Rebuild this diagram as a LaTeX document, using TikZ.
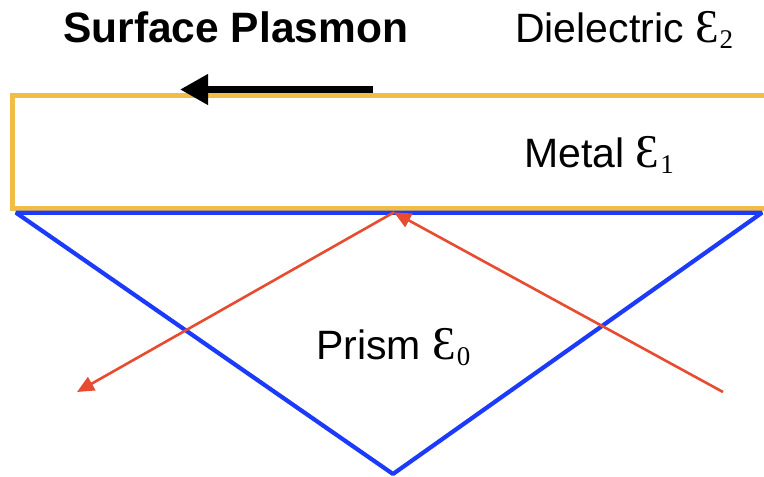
\documentclass[tikz,border=0pt]{standalone}
\usepackage{fontspec}
\setmainfont{Liberation Sans}
\newfontfamily\epsfont{Liberation Serif}
\usetikzlibrary{arrows.meta}
\definecolor{metalgold}{RGB}{240,190,72}
\definecolor{prismblue}{RGB}{28,58,250}
\definecolor{rayred}{RGB}{232,76,48}
\newcommand{\eps}[1]{{\epsfont\fontsize{47}{47}\selectfont Ɛ}\hspace{1pt}\raisebox{-6pt}{\epsfont\fontsize{27}{27}\selectfont #1}}
\tikzset{
  lbl/.style={anchor=base west, inner sep=0pt, font=\fontsize{41}{41}\selectfont},
  boldlbl/.style={anchor=base west, inner sep=0pt, font=\fontsize{42.5}{42.5}\selectfont\bfseries},
  metal/.style={draw=metalgold, line width=4.8pt, line cap=butt, line join=miter},
  prism/.style={draw=prismblue, line width=4.2pt, line join=bevel},
  ray/.style={draw=rayred, line width=2.6pt, -{Triangle[length=17pt,width=15pt]}},
  plasmon/.style={draw=black, line width=7pt, -{Triangle[length=28pt,width=29pt]}}
}
\begin{document}
\begin{tikzpicture}[x=1pt,y=-1pt]
\useasboundingbox[fill=white] (0,0) rectangle (764,477);
% metal layer
\coordinate (mtr) at (766,95.8);
\coordinate (mtl) at (12.5,95.8);
\coordinate (mbl) at (12.5,208.4);
\coordinate (mbr) at (766,208.4);
\draw[metal] (mtr) -- (mtl) -- (mbl) -- (mbr);
% prism
\coordinate (pl) at (16,212.7);
\coordinate (pr) at (762,212.7);
\coordinate (pb) at (393,474);
\draw[prism] (pl) -- (pr) -- (pb) -- cycle;
% rays
\coordinate (hit) at (394,212.3);
\coordinate (src) at (723,392);
\coordinate (dst) at (77,392);
\draw[ray] (src) -- (hit);
\draw[ray] (hit) -- (dst);
% surface plasmon arrow
\coordinate (sps) at (373,89.5);
\coordinate (spe) at (180,89.5);
\draw[plasmon] (sps) -- (spe);
% labels
\node[boldlbl] (tsp) at (63,42) {Surface Plasmon};
\node[lbl] (tdi) at (515,42) {Dielectric \eps{2}};
\node[lbl] (tme) at (524,167) {Metal \eps{1}};
\node[lbl] (tpr) at (316,359) {Prism \eps{0}};
\end{tikzpicture}
\end{document}
